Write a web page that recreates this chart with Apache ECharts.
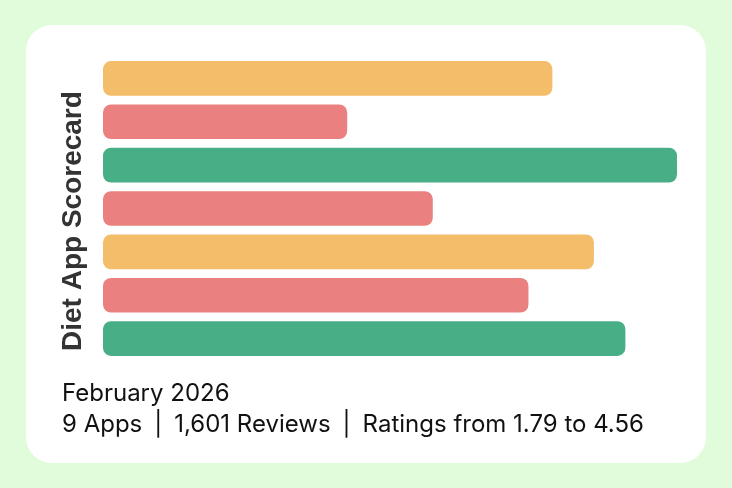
<!DOCTYPE html>
<html>
<head>
<meta charset="utf-8">
<script src="https://cdn.jsdelivr.net/npm/echarts@6/dist/echarts.min.js"></script>
<style>
html,body{margin:0;padding:0;background:#e1fcdb;}
#chart{width:732px;height:488px;}
</style>
</head>
<body>
<div id="chart"></div>
<script>
var title = "Diet App Scorecard";
var subtitleLine1 = "February 2026";
var subtitleLine2 = "9 Apps\u2002|\u20021,601 Reviews\u2002|\u2002Ratings from 1.79 to 4.56";
var categories = ["App A", "App B", "App C", "App D", "App E", "App F", "App G"];
var ratings = [3.57, 1.94, 4.56, 2.62, 3.90, 3.38, 4.15];
var barColors = ["#f3bd6a", "#eb8080", "#47ae85", "#eb8080", "#f3bd6a", "#eb8080", "#47ae85"];

var chart = echarts.init(document.getElementById('chart'), null, {renderer: 'canvas'});
chart.setOption({
  backgroundColor: '#e1fcdb',
  animation: false,
  graphic: [
    {type: 'rect', z: -10, shape: {x: 26, y: 25, width: 680, height: 438, r: 26}, style: {fill: '#ffffff'}},
    {type: 'text', x: 73, y: 351, rotation: Math.PI / 2,
     style: {text: title, font: 'bold 28px "Liberation Sans", Arial, sans-serif', fill: '#333333', textAlign: 'left', textVerticalAlign: 'middle'}},
    {type: 'text', x: 62, y: 381.5,
     style: {text: subtitleLine1, font: '24px Inter, sans-serif', fill: '#111111', textAlign: 'left', textVerticalAlign: 'top'}},
    {type: 'text', x: 62, y: 413,
     style: {text: subtitleLine2, font: '24px Inter, sans-serif', fill: '#111111', textAlign: 'left', textVerticalAlign: 'top'}}
  ],
  grid: {left: 103, right: 55, top: 56.7, bottom: 127.7, containLabel: false},
  xAxis: {type: 'value', min: 0, max: 4.56, show: false},
  yAxis: {type: 'category', data: categories, inverse: true, show: false},
  series: [{
    type: 'bar',
    barCategoryGap: '20%',
    data: ratings.map(function (v, i) {
      return {value: v, itemStyle: {color: barColors[i], borderRadius: 8}};
    })
  }]
});
</script>
</body>
</html>
